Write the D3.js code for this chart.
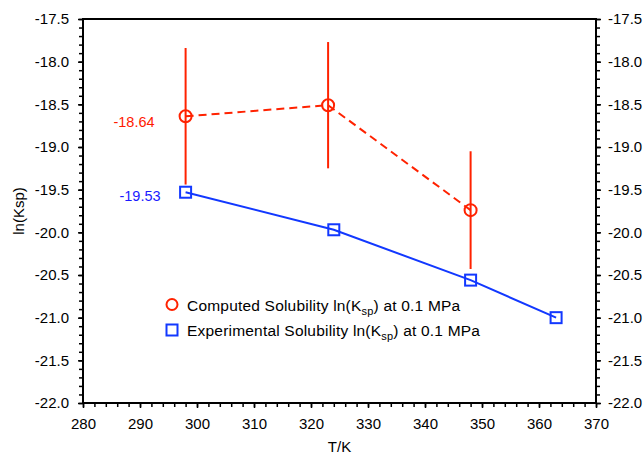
<!DOCTYPE html>
<html>
<head>
<meta charset="utf-8">
<script src="https://cdn.jsdelivr.net/npm/d3@7"></script>
<style>
  body { margin: 0; background: #fff; }
  svg text { font-family: "Liberation Sans", Arial, sans-serif; fill: #000; }
</style>
</head>
<body>
<div id="chart"></div>
<script>
// data
const computedT = [298, 323, 348];
const computedLnKsp = [-18.64, -18.51, -19.74];
const computedErr = [0.80, 0.74, 0.69];

const experimentalT = [298, 324, 348, 363];
const experimentalLnKsp = [-19.53, -19.97, -20.56, -21.0];

const xTicks = [280, 290, 300, 310, 320, 330, 340, 350, 360, 370];
const yTicks = [-17.5, -18.0, -18.5, -19.0, -19.5, -20.0, -20.5, -21.0, -21.5, -22.0];

const width = 643, height = 457;
const margin = {top: 19, right: 47, bottom: 54, left: 83};

const red = "#ff2200", blue = "#1238ff";

const svg = d3.select("#chart").append("svg")
    .attr("width", width)
    .attr("height", height);

const x = d3.scaleLinear().domain([280, 370]).range([margin.left, width - margin.right]);
const y = d3.scaleLinear().domain([-17.5, -22.0]).range([margin.top, height - margin.bottom]);

const x0 = x.range()[0], x1 = x.range()[1], y0 = y.range()[0], y1 = y.range()[1];

// minor ticks
const xMinor = d3.range(280, 370.1, 2);
const yMinor = d3.range(-22.0, -17.49, 0.1);

// plain hyphen minus like the original
const fmt1 = d => d.toFixed(1);
const fmt2 = d => d.toFixed(2);

function styleAxis(g) {
    g.select(".domain").remove();
    g.selectAll("line").attr("stroke", "#000").attr("stroke-width", 1.5);
    g.selectAll("text").style("font-size", "15px");
}

// bottom axis
svg.append("g")
    .attr("transform", `translate(0,${y1})`)
    .call(d3.axisBottom(x).tickValues(xMinor).tickSize(4).tickFormat(""))
    .call(styleAxis);
svg.append("g")
    .attr("transform", `translate(0,${y1})`)
    .call(d3.axisBottom(x).tickValues(xTicks).tickSize(5).tickPadding(10).tickFormat(d3.format("d")))
    .call(styleAxis);

// left axis
svg.append("g")
    .attr("transform", `translate(${x0},0)`)
    .call(d3.axisLeft(y).tickValues(yMinor).tickSize(4).tickFormat(""))
    .call(styleAxis);
svg.append("g")
    .attr("transform", `translate(${x0},0)`)
    .call(d3.axisLeft(y).tickValues(yTicks).tickSize(5).tickPadding(9).tickFormat(fmt1))
    .call(styleAxis);

// right axis
svg.append("g")
    .attr("transform", `translate(${x1},0)`)
    .call(d3.axisRight(y).tickValues(yMinor).tickSize(4).tickFormat(""))
    .call(styleAxis);
svg.append("g")
    .attr("transform", `translate(${x1},0)`)
    .call(d3.axisRight(y).tickValues(yTicks).tickSize(5).tickPadding(7).tickFormat(fmt1))
    .call(styleAxis);

// frame
svg.append("rect")
    .attr("x", x0).attr("y", y0)
    .attr("width", x1 - x0).attr("height", y1 - y0)
    .attr("fill", "none")
    .attr("stroke", "#000")
    .attr("stroke-width", 2);

// axis titles
svg.append("text")
    .attr("x", (x0 + x1) / 2)
    .attr("y", 452)
    .attr("text-anchor", "middle")
    .style("font-size", "15px")
    .text("T/K");

svg.append("text")
    .attr("transform", `translate(24,${(y0 + y1) / 2}) rotate(-90)`)
    .attr("text-anchor", "middle")
    .style("font-size", "15px")
    .text("ln(Ksp)");

const line = d3.line().x(d => x(d[0])).y(d => y(d[1]));

// experimental series
const expData = experimentalT.map((t, i) => [t, experimentalLnKsp[i]]);
svg.append("path")
    .datum(expData)
    .attr("d", line)
    .attr("fill", "none")
    .attr("stroke", blue)
    .attr("stroke-width", 2);

svg.selectAll(".sq")
    .data(expData)
    .enter().append("rect")
    .attr("class", "sq")
    .attr("x", d => x(d[0]) - 5.5)
    .attr("y", d => y(d[1]) - 5.5)
    .attr("width", 11)
    .attr("height", 11)
    .attr("fill", "none")
    .attr("stroke", blue)
    .attr("stroke-width", 2);

// computed series
const compData = computedT.map((t, i) => [t, computedLnKsp[i], computedErr[i]]);

svg.selectAll(".err")
    .data(compData)
    .enter().append("line")
    .attr("class", "err")
    .attr("x1", d => x(d[0]))
    .attr("x2", d => x(d[0]))
    .attr("y1", d => y(d[1] + d[2]))
    .attr("y2", d => y(d[1] - d[2]))
    .attr("stroke", red)
    .attr("stroke-width", 2);

svg.append("path")
    .datum(compData)
    .attr("d", line)
    .attr("fill", "none")
    .attr("stroke", red)
    .attr("stroke-width", 2)
    .attr("stroke-dasharray", "8,5");

svg.selectAll(".circ")
    .data(compData)
    .enter().append("circle")
    .attr("class", "circ")
    .attr("cx", d => x(d[0]))
    .attr("cy", d => y(d[1]))
    .attr("r", 6)
    .attr("fill", "none")
    .attr("stroke", red)
    .attr("stroke-width", 2);

// value labels on the first points
svg.append("text")
    .attr("x", x(computedT[0]) - 31)
    .attr("y", y(computedLnKsp[0]) + 11)
    .attr("text-anchor", "end")
    .style("font-size", "14.5px")
    .style("fill", "#ff1a00")
    .text(fmt2(computedLnKsp[0]));

svg.append("text")
    .attr("x", x(experimentalT[0]) - 25)
    .attr("y", y(experimentalLnKsp[0]) + 9)
    .attr("text-anchor", "end")
    .style("font-size", "14.5px")
    .style("fill", "#1a1aff")
    .text(fmt2(experimentalLnKsp[0]));

// legend
const legendItems = [
    {name: "Computed Solubility ln(K", sub: "sp", tail: ") at 0.1 MPa", shape: "circle", color: red},
    {name: "Experimental Solubility ln(K", sub: "sp", tail: ") at 0.1 MPa", shape: "square", color: blue}
];

const legend = svg.append("g").attr("transform", "translate(172,304.5)");
legendItems.forEach((item, i) => {
    const g = legend.append("g").attr("transform", `translate(0,${i * 25.5})`);
    if (item.shape === "circle") {
        g.append("circle").attr("r", 5.5)
            .attr("fill", "none").attr("stroke", item.color).attr("stroke-width", 2);
    } else {
        g.append("rect").attr("x", -5.5).attr("y", -5.5).attr("width", 11).attr("height", 11)
            .attr("fill", "none").attr("stroke", item.color).attr("stroke-width", 2);
    }
    const t = g.append("text")
        .attr("x", 15)
        .attr("y", 6)
        .style("font-size", "15.5px")
        .style("letter-spacing", "0.2px");
    t.append("tspan").text(item.name);
    t.append("tspan").attr("dy", 4).style("font-size", "11px").text(item.sub);
    t.append("tspan").attr("dy", -4).text(item.tail);
});
</script>
</body>
</html>
